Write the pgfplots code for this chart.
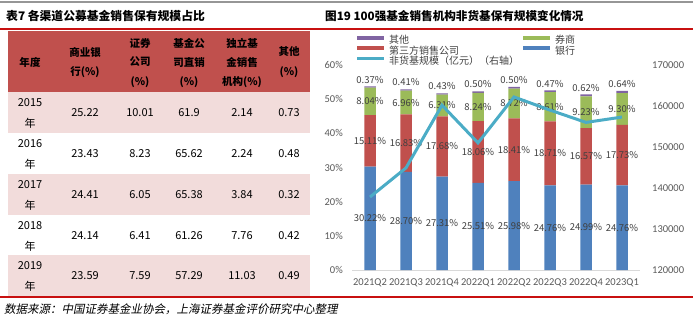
\documentclass[border=0pt]{standalone}
\usepackage{pgfplots}
\pgfplotsset{compat=1.18}
\usepackage{pgfplotstable}
\usepackage{fontspec}
\setmainfont{Noto Sans CJK SC}
\newfontfamily\lat{Carlito}
\newfontfamily\cjkit[FakeSlant=0.2]{Noto Sans CJK SC}
\definecolor{cbank}{RGB}{79,129,189}
\definecolor{cthird}{RGB}{192,80,77}
\definecolor{cbroker}{RGB}{155,187,89}
\definecolor{cother}{RGB}{128,100,162}
\definecolor{cline}{RGB}{75,172,198}
\definecolor{hdr}{RGB}{192,80,77}
\definecolor{pinkrow}{RGB}{242,220,219}
\definecolor{tickc}{RGB}{89,89,89}
\definecolor{lab}{RGB}{64,64,64}
\definecolor{redline}{RGB}{200,16,16}
\definecolor{grayline}{RGB}{150,150,150}
\definecolor{axisc}{RGB}{217,217,217}

\pgfplotstableread{
x bank third broker other scale
0 30.22 15.11 8.04 0.37 137800
1 28.70 16.83 6.96 0.41 144900
2 27.31 17.68 6.31 0.43 160200
3 25.51 18.06 8.24 0.50 151000
4 25.98 18.41 8.72 0.50 162200
5 24.76 18.71 8.61 0.47 159000
6 24.99 16.57 9.23 0.62 156000
7 24.76 17.73 9.30 0.64 157300
}\chartdata

\newcommand\trow[7]{%
  \node at (30,#1-11) {#2};
  \node at (30,#1-31) {年};
  \node at (85,#1-21) {#3};
  \node at (140,#1-21) {#4};
  \node at (189,#1-21) {#5};
  \node at (242,#1-21) {#6};
  \node at (289,#1-21) {#7};
}

\pgfplotsset{
  chartbox/.style={at={(352pt,51pt)}, anchor=south west,
    scale only axis, width=288pt, height=205pt,
    xmin=-0.5, xmax=7.5},
}

\begin{document}
\begin{tikzpicture}[x=1pt,y=1pt]
\path[use as bounding box] (0,0) rectangle (700,321);
% frame lines
\draw[grayline, line width=1.5pt] (0,319) -- (693,319);
\draw[redline, line width=1.2pt] (0,292) -- (693,292);
\draw[redline, line width=1.2pt] (0,24) -- (693,24);
% titles
\node[anchor=west, inner sep=0pt, font=\bfseries\fontsize{11.8}{13}\selectfont] at (6,305) {表7\ 各渠道公募基金销售保有规模占比};
\node[anchor=west, inner sep=0pt, font=\bfseries\fontsize{11.6}{13}\selectfont] at (325,305) {图19\ 100强基金销售机构非货基保有规模变化情况};
\node[anchor=west, inner sep=0pt, font=\cjkit\fontsize{11.5}{13}\selectfont] at (4,12) {数据来源：中国证券基金业协会，上海证券基金评价研究中心整理};
% table
\fill[hdr] (8,229) rectangle (310,290);
\fill[pinkrow] (8,188) rectangle (310,229);
\fill[pinkrow] (8,106) rectangle (310,147);
\fill[pinkrow] (8,25) rectangle (310,66);
\begin{scope}[every node/.style={inner sep=0pt, font=\bfseries\fontsize{10.5}{12}\selectfont, text=black}]
\node at (30,259) {年度};
\node at (85,269) {商业银};
\node at (85,249) {行(\%)};
\node at (140,278) {证券};
\node at (140,259) {公司};
\node at (140,239) {(\%)};
\node at (189,278) {基金公};
\node at (189,259) {司直销};
\node at (189,239) {(\%)};
\node at (242,278) {独立基};
\node at (242,259) {金销售};
\node at (242,239) {机构(\%)};
\node at (289,269) {其他};
\node at (289,249) {(\%)};
\end{scope}
\begin{scope}[every node/.style={inner sep=0pt, font=\fontsize{11}{13}\selectfont, text=black}]
\trow{229}{2015}{25.22}{10.01}{61.9}{2.14}{0.73}
\trow{188}{2016}{23.43}{8.23}{65.62}{2.24}{0.48}
\trow{147}{2017}{24.41}{6.05}{65.38}{3.84}{0.32}
\trow{106}{2018}{24.14}{6.41}{61.26}{7.76}{0.42}
\trow{66}{2019}{23.59}{7.59}{57.29}{11.03}{0.49}
\end{scope}

% bar chart
\begin{axis}[
  chartbox,
  ybar stacked, bar width=11.5pt,
  ymin=0, ymax=60,
  axis x line*=bottom, axis y line*=left,
  x axis line style={draw=axisc, line width=0.8pt},
  y axis line style={draw=none},
  major tick length=0pt,
  xtick={0,...,7},
  xticklabels={2021Q2,2021Q3,2021Q4,2022Q1,2022Q2,2022Q3,2022Q4,2023Q1},
  ytick={0,10,...,60},
  yticklabels={0\%,10\%,20\%,30\%,40\%,50\%,60\%},
  tick label style={font=\lat\fontsize{10.5}{12}\selectfont, text=tickc},
  xticklabel style={inner sep=0pt, yshift=-8.5pt},
  yticklabel style={inner sep=0pt, xshift=-9pt},
]
\addplot[fill=cbank, draw=none] table[x=x,y=bank]{\chartdata};
\addplot[fill=cthird, draw=none] table[x=x,y=third]{\chartdata};
\addplot[fill=cbroker, draw=none] table[x=x,y=broker]{\chartdata};
\addplot[fill=cother, draw=none] table[x=x,y=other]{\chartdata};
\end{axis}

% data labels, same 0-60 scale, not stacked
\begin{axis}[
  chartbox, ymin=0, ymax=60, hide axis,
  /pgf/number format/assume math mode=true,
  nodes near coords={\pgfmathprintnumber[fixed,fixed zerofill,precision=2]{\pgfplotspointmeta}\%},
  every node near coord/.append style={font=\fontsize{9.5}{11}\selectfont, text=lab, inner sep=1pt, anchor=center},
]
\addplot[draw=none, mark=none, point meta=\thisrow{bank}]
  table[x=x, y expr=\thisrow{bank}/2]{\chartdata};
\addplot[draw=none, mark=none, point meta=\thisrow{third}]
  table[x=x, y expr=\thisrow{bank}+\thisrow{third}/2]{\chartdata};
\addplot[draw=none, mark=none, point meta=\thisrow{broker}]
  table[x=x, y expr=\thisrow{bank}+\thisrow{third}+\thisrow{broker}/2]{\chartdata};
\addplot[draw=none, mark=none, point meta=\thisrow{other},
  every node near coord/.append style={anchor=south, yshift=2pt}]
  table[x=x, y expr=\thisrow{bank}+\thisrow{third}+\thisrow{broker}+\thisrow{other}]{\chartdata};
\end{axis}

% line on right axis
\begin{axis}[
  chartbox, ymin=120000, ymax=170000,
  axis x line=none, axis y line*=right,
  y axis line style={draw=none},
  major tick length=0pt,
  ytick={120000,130000,140000,150000,160000,170000},
  yticklabels={120000,130000,140000,150000,160000,170000},
  scaled y ticks=false,
  tick label style={font=\lat\fontsize{10.5}{12}\selectfont, text=tickc},
  yticklabel style={inner sep=0pt, anchor=west, xshift=12pt},
  legend columns=2,
  legend cell align=left,
  legend image code/.code={\draw[#1] (0pt,3pt) -- (27pt,3pt);},
  legend style={at={(0,1)}, anchor=south west, xshift=3pt, yshift=-1pt,
    draw=none, fill=none, inner sep=0pt,
    font=\fontsize{10}{11}\selectfont, text=lab,
    nodes={inner sep=0pt, text height=7.5pt, text depth=1.5pt},
    row sep=1pt,
    /tikz/every odd column/.append style={column sep=3pt},
    /tikz/every even column/.append style={column sep=2pt}},
]
\addlegendimage{line width=4pt, cother}
\addlegendentry{其他}
\addlegendimage{line width=4pt, cbroker}
\addlegendentry{券商}
\addlegendimage{line width=4pt, cthird}
\addlegendentry{第三方销售公司}
\addlegendimage{line width=4pt, cbank}
\addlegendentry{银行}
\addplot[cline, line width=3pt, mark=none] table[x=x,y=scale]{\chartdata};
\addlegendentry{非货基规模（亿元）（右轴）}
\end{axis}
\end{tikzpicture}
\end{document}
